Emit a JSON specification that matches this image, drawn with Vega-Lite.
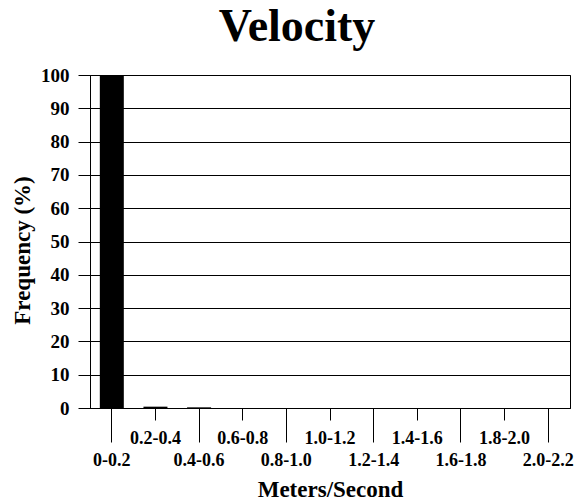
{
  "$schema": "https://vega.github.io/schema/vega-lite/v6.json",
  "width": 480,
  "height": 333,
  "autosize": "none",
  "padding": {"left": 90, "top": 75, "right": 7, "bottom": 93},
  "background": "white",
  "title": {
    "text": "Velocity",
    "font": "Liberation Serif",
    "fontSize": 46,
    "fontWeight": "bold",
    "color": "black",
    "anchor": "middle",
    "frame": "group",
    "dx": -33,
    "offset": 15
  },
  "config": {"view": {"stroke": "black", "strokeWidth": 1}},
  "data": {
    "values": [
      {"range": "0-0.2", "frequency": 100},
      {"range": "0.2-0.4", "frequency": 0.4},
      {"range": "0.4-0.6", "frequency": 0.2},
      {"range": "0.6-0.8", "frequency": 0},
      {"range": "0.8-1.0", "frequency": 0},
      {"range": "1.0-1.2", "frequency": 0},
      {"range": "1.2-1.4", "frequency": 0},
      {"range": "1.4-1.6", "frequency": 0},
      {"range": "1.6-1.8", "frequency": 0},
      {"range": "1.8-2.0", "frequency": 0},
      {"range": "2.0-2.2", "frequency": 0}
    ]
  },
  "mark": {"type": "bar", "color": "black", "width": {"band": 0.55}},
  "encoding": {
    "x": {
      "field": "range",
      "type": "nominal",
      "sort": null,
      "scale": {"paddingInner": 0, "paddingOuter": 0},
      "axis": {
        "title": "Meters/Second",
        "titleFont": "Liberation Serif",
        "titleFontSize": 23,
        "titleFontWeight": "bold",
        "titleColor": "black",
        "titleX": 240,
        "titleY": 88,
        "titleBaseline": "alphabetic",
        "titleAlign": "center",
        "labelAngle": 0,
        "labelFont": "Liberation Serif",
        "labelFontSize": 18,
        "labelFontWeight": "bold",
        "labelColor": "black",
        "labelOverlap": false,
        "labelBound": false,
        "labelFlush": false,
        "labelBaseline": "alphabetic",
        "labelPadding": 23,
        "tickSize": {
          "condition": {
            "test": "indexof(['0-0.2','0.4-0.6','0.8-1.0','1.2-1.4','1.6-1.8','2.0-2.2'], datum.value) >= 0",
            "value": 34
          },
          "value": 12
        },
        "tickColor": "black",
        "tickWidth": 1,
        "domainColor": "black",
        "domainWidth": 1,
        "grid": false
      }
    },
    "y": {
      "field": "frequency",
      "type": "quantitative",
      "scale": {"domain": [0, 100], "nice": false},
      "axis": {
        "title": "Frequency (%)",
        "titleFont": "Liberation Serif",
        "titleFontSize": 23,
        "titleFontWeight": "bold",
        "titleColor": "black",
        "titleX": -68,
        "titleY": 175,
        "titleAngle": 270,
        "titleBaseline": "middle",
        "titleAlign": "center",
        "values": [0, 10, 20, 30, 40, 50, 60, 70, 80, 90, 100],
        "labelFont": "Liberation Serif",
        "labelFontSize": 19,
        "labelFontWeight": "bold",
        "labelColor": "black",
        "labelPadding": 9,
        "tickSize": 12,
        "tickColor": "black",
        "tickWidth": 1,
        "domainColor": "black",
        "domainWidth": 1,
        "grid": true,
        "gridColor": "black",
        "gridOpacity": 1,
        "gridWidth": 1
      }
    }
  }
}
